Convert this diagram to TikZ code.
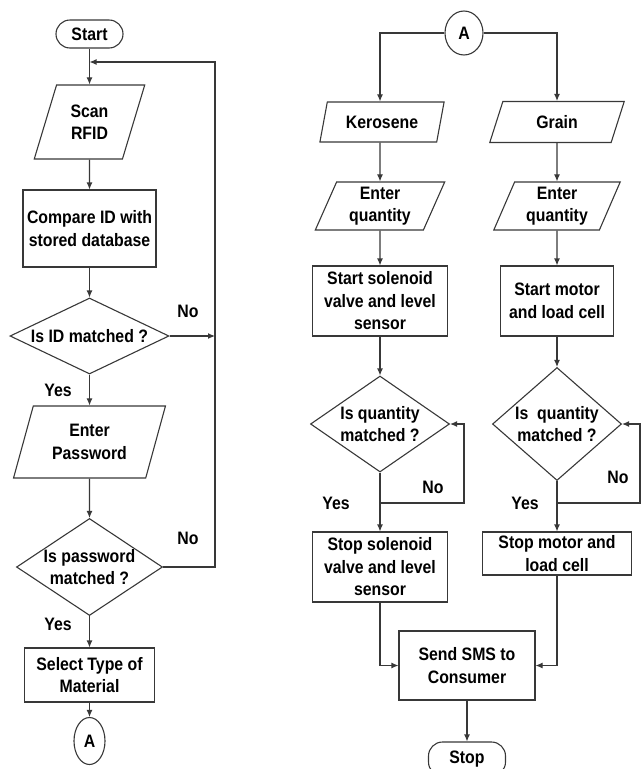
\documentclass[tikz,border=0pt]{standalone}
\usepackage{fontspec}
\setmainfont{Liberation Sans}[FakeStretch=0.88]
\usetikzlibrary{shapes.geometric,arrows.meta}
\begin{document}
\begin{tikzpicture}[x=1pt,y=-1pt,
  every node/.style={font=\bfseries\fontsize{18}{22.5}\selectfont, text=black, align=center},
  ln/.style={draw=black!78, line width=1.1pt},
  boxn/.style={ln, rectangle, inner sep=1pt},
  termn/.style={ln, rectangle, rounded corners=14pt, inner sep=1pt},
  paran/.style={ln, trapezium, trapezium stretches=true, inner sep=1pt},
  decn/.style={ln, diamond, inner sep=0pt},
  ovaln/.style={ln, ellipse, inner sep=0pt},
  lbl/.style={inner sep=0pt},
  arr/.style={draw=black!78, line width=1.1pt, -{Latex[length=7pt,width=6pt]}}
]
\clip (0,0) rectangle (643,769);
\useasboundingbox (0,0) rectangle (643,769);
% ---------------- left column ----------------
\node[termn, minimum width=67pt, minimum height=28pt] (start) at (89.5,34) {Start};
\node[paran, trapezium left angle=70, trapezium right angle=110, minimum width=111pt, minimum height=74pt] (scan) at (89.5,122) {Scan\\RFID};
\node[boxn, minimum width=133pt, minimum height=77pt] (cmp) at (89.5,228.5) {Compare ID with\\stored database};
\node[decn, shape aspect=2.09, minimum width=159pt, minimum height=76pt] (idq) at (89.5,336) {Is ID matched ?};
\node[paran, trapezium left angle=70, trapezium right angle=110, minimum width=152pt, minimum height=72pt] (pass) at (89.5,442) {Enter\\Password};
\node[decn, shape aspect=1.5, minimum width=146pt, minimum height=97pt] (pwq) at (89.5,567) {Is password\\matched ?};
\node[boxn, minimum width=130pt, minimum height=54pt] (sel) at (89.5,675) {Select Type of\\Material};
\node[ovaln, minimum width=31pt, minimum height=47pt] (a1) at (89.5,741) {A};

\coordinate (jn) at (89.5,62);
\coordinate (rtop) at (215,62);

\draw[arr] (start) -- (scan);
\draw[arr] (scan) -- (cmp);
\draw[arr] (cmp) -- (idq);
\draw[arr] (idq) -- (pass);
\draw[arr] (pass) -- (pwq);
\draw[arr] (pwq) -- (sel);
\draw[arr] (sel) -- (a1);
\draw[arr] (pwq.east) -| (rtop) -- (jn);
\draw[arr] (idq.east) -- (idq.east -| rtop);

\node[lbl] at (188,311) {No};
\node[lbl] at (188,538) {No};
\node[lbl] at (58,390) {Yes};
\node[lbl] at (58,624) {Yes};

% ---------------- right part ----------------
\node[ovaln, minimum width=38pt, minimum height=44pt] (a2) at (464,33) {A};
\node[paran, trapezium left angle=71, trapezium right angle=109, minimum width=125pt, minimum height=40pt] (kero) at (382,122) {Kerosene};
\node[paran, trapezium left angle=71, trapezium right angle=109, minimum width=135pt, minimum height=41pt] (grain) at (557,122) {Grain};
\node[paran, trapezium left angle=69, trapezium right angle=111, minimum width=130pt, minimum height=48pt] (eq1) at (380,206) {Enter\\quantity};
\node[paran, trapezium left angle=69, trapezium right angle=111, minimum width=127pt, minimum height=48pt] (eq2) at (557,206) {Enter\\quantity};
\node[boxn, minimum width=135pt, minimum height=70pt] (ss1) at (380,301) {Start solenoid\\valve and level\\sensor};
\node[boxn, minimum width=113pt, minimum height=70pt] (sm1) at (557,301) {Start motor\\and load cell};
\node[decn, shape aspect=1.45, minimum width=139pt, minimum height=96pt] (d1) at (380,424) {Is quantity\\matched ?};
\node[decn, shape aspect=1.14, minimum width=129pt, minimum height=113pt] (d2) at (557,424) {Is~~quantity\\matched ?};
\node[boxn, minimum width=135pt, minimum height=70pt] (st1) at (380,567) {Stop solenoid\\valve and level\\sensor};
\node[boxn, minimum width=149pt, minimum height=43pt] (st2) at (557,553.5) {Stop motor and\\load cell};
\node[boxn, minimum width=136pt, minimum height=69pt] (sms) at (467,665.5) {Send SMS to\\Consumer};
\node[termn, minimum width=77pt, minimum height=34pt] (stop) at (467,759) {Stop};

\coordinate (l1a) at (380,503);
\coordinate (l1b) at (464,503);
\coordinate (l2a) at (557,503);
\coordinate (l2b) at (640,503);

\draw[arr] (a2.west) -| (eq1.north |- kero.north);
\draw[arr] (a2.east) -| (grain.north);
\draw[arr] (eq1.north |- kero.south) -- (eq1);
\draw[arr] (grain) -- (eq2);
\draw[arr] (eq1) -- (ss1);
\draw[arr] (eq2) -- (sm1);
\draw[arr] (ss1) -- (d1);
\draw[arr] (sm1) -- (d2);
\draw[arr] (d1) -- (st1);
\draw[arr] (d2) -- (st2);
\draw[arr] (l1a) -- (l1b) |- (d1.east);
\draw[arr] (l2a) -- (l2b) |- (d2.east);
\draw[arr] (st1.south) |- (sms.west);
\draw[arr] (st2.south) |- (sms.east);
\draw[arr] (sms) -- (stop);

\node[lbl] at (433,487) {No};
\node[lbl] at (336,503) {Yes};
\node[lbl] at (618,477) {No};
\node[lbl] at (525,503) {Yes};
\end{tikzpicture}
\end{document}
